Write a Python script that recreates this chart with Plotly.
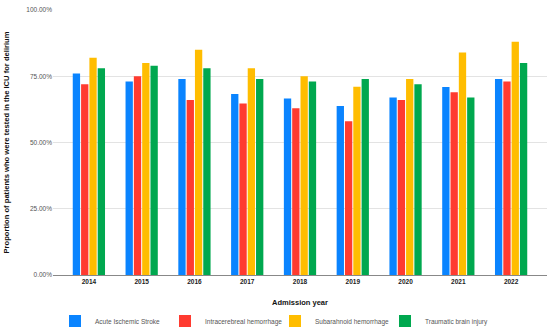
import plotly.graph_objects as go

years = ["2014", "2015", "2016", "2017", "2018", "2019", "2020", "2021", "2022"]
acute_ischemic = [0.76, 0.73, 0.74, 0.683, 0.666, 0.638, 0.67, 0.709, 0.74]
intracerebreal = [0.72, 0.75, 0.66, 0.647, 0.629, 0.58, 0.66, 0.69, 0.73]
subarahnoid = [0.82, 0.80, 0.85, 0.78, 0.75, 0.71, 0.74, 0.84, 0.88]
traumatic = [0.78, 0.79, 0.78, 0.74, 0.73, 0.74, 0.72, 0.67, 0.80]

series = [
    ("Acute Ischemic Stroke", acute_ischemic, "#0A84FF"),
    ("Intracerebreal hemorrhage", intracerebreal, "#FF3B30"),
    ("Subarahnoid hemorrhage", subarahnoid, "#FFBD00"),
    ("Traumatic brain injury", traumatic, "#00A84F"),
]

fig = go.Figure()
for name, vals, col in series:
    fig.add_trace(go.Bar(x=years, y=vals, name=name, marker=dict(color=col, line=dict(width=0))))

fig.update_layout(
    width=550, height=331,
    margin=dict(l=53, r=3, t=9.5, b=55.5),
    paper_bgcolor="white", plot_bgcolor="white",
    barmode="group", bargap=0.37, bargroupgap=0.12,
    font=dict(family="Liberation Sans, Arial, sans-serif", color="#222"),
    showlegend=True,
    legend=dict(orientation="h", x=0.5, xanchor="center", xref="container",
                y=0.03, yanchor="middle", yref="container",
                font=dict(size=6.5, color="#555"), itemwidth=30,
                entrywidth=65, entrywidthmode="pixels", traceorder="normal"),
    xaxis=dict(
        type="category", range=[-0.68, 8.68], showgrid=False, automargin=False,
        showline=True, linecolor="#888", linewidth=1,
        tickfont=dict(size=6.5, color="#222", family="Liberation Sans, Arial, sans-serif"),
        ticks="", tickprefix="<b>", ticksuffix="</b>",
        title=dict(text="<b>Admission year</b>", font=dict(size=7.5, color="#111"), standoff=18),
    ),
    yaxis=dict(
        range=[0, 1], tickvals=[0, 0.25, 0.5, 0.75, 1.0], tickformat=".2%", automargin=False,
        showgrid=True, gridcolor="#E3E3E3", gridwidth=1, zeroline=False,
        tickfont=dict(size=6.5, color="#555"), ticks="", ticklen=0,
        title=dict(text="<b>Proportion of patients who were tested in the ICU for delirium</b>",
                   font=dict(size=7.6, color="#111")),
    ),
)

fig.write_html("out.html", config={"displayModeBar": False},
               post_script="document.body.style.margin='0';document.body.style.overflow='hidden';")
